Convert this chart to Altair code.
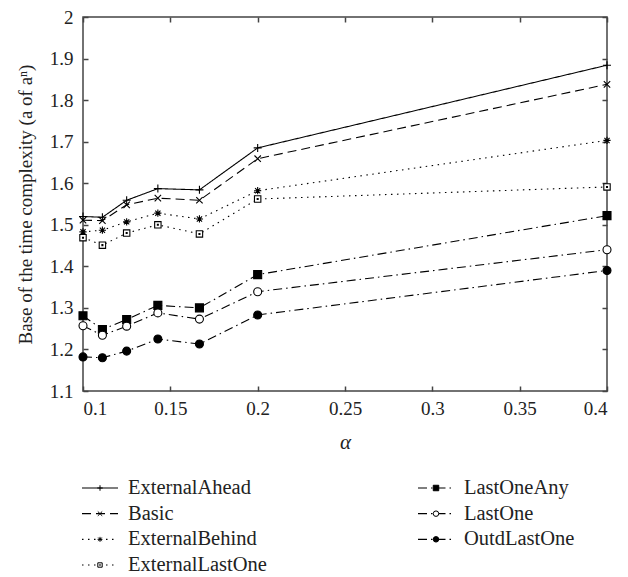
import altair as alt
import pandas as pd

alpha = [0.1, 1/9, 0.125, 1/7, 1/6, 0.2, 0.4]

series_names = ["ExternalAhead", "Basic", "ExternalBehind", "ExternalLastOne",
                "LastOneAny", "LastOne", "OutdLastOne"]

external_ahead = [1.520, 1.518, 1.559, 1.587, 1.584, 1.685, 1.884]
basic = [1.511, 1.510, 1.548, 1.564, 1.559, 1.659, 1.838]
external_behind = [1.483, 1.487, 1.507, 1.528, 1.514, 1.582, 1.703]
external_last_one = [1.469, 1.451, 1.480, 1.500, 1.478, 1.562, 1.591]
last_one_any = [1.281, 1.248, 1.272, 1.306, 1.300, 1.380, 1.522]
last_one = [1.257, 1.234, 1.256, 1.288, 1.273, 1.339, 1.440]
outd_last_one = [1.182, 1.180, 1.196, 1.225, 1.213, 1.283, 1.390]

x_ticks = [0.1, 0.15, 0.2, 0.25, 0.3, 0.35, 0.4]
y_ticks = [1.1, 1.2, 1.3, 1.4, 1.5, 1.6, 1.7, 1.8, 1.9, 2.0]

# legend layout: column and row of each entry
legend_col = [0, 0, 0, 0, 1, 1, 1]
legend_row = [0, 1, 2, 3, 0, 1, 2]

all_values = [external_ahead, basic, external_behind, external_last_one,
              last_one_any, last_one, outd_last_one]

rows = []
for name, vals in zip(series_names, all_values):
    for a, v in zip(alpha, vals):
        rows.append({"series": name, "alpha": a, "value": v})
df = pd.DataFrame(rows)

leg = pd.DataFrame({"series": series_names, "lx": legend_col, "ly": legend_row})

# styles
dash_range = [[1, 0], [9, 5], [1.5, 4.5], [1.5, 4.5],
              [9, 4, 1.5, 4], [9, 4, 1.5, 4], [9, 4, 1.5, 4]]
plus_path = "M-1,0L1,0M0,-1L0,1"
cross_path = "M-0.8,-0.8L0.8,0.8M-0.8,0.8L0.8,-0.8"
aster_path = "M-0.9,0L0.9,0M0,-0.9L0,0.9M-0.65,-0.65L0.65,0.65M-0.65,0.65L0.65,-0.65"
sq_dot_path = "M-0.8,-0.8L0.8,-0.8L0.8,0.8L-0.8,0.8Z M-0.12,-0.12L0.12,-0.12L0.12,0.12L-0.12,0.12Z"
shape_range = [plus_path, cross_path, aster_path, sq_dot_path, "square", "circle", "circle"]
fill_range = ["white", "white", "black", "white", "black", "white", "black"]

FONT = "Liberation Serif, Times New Roman, serif"
INK = "#222222"

dash_scale = alt.Scale(domain=series_names, range=dash_range)
shape_scale = alt.Scale(domain=series_names, range=shape_range)
fill_scale = alt.Scale(domain=series_names, range=fill_range)

xs = alt.Scale(domain=[0.1, 0.4], nice=False, zero=False)
ys = alt.Scale(domain=[1.1, 2.0], nice=False, zero=False)

lines = alt.Chart(df).mark_line(color="black", strokeWidth=1.1).encode(
    x=alt.X("alpha:Q", scale=xs,
            axis=alt.Axis(values=x_ticks, format="~g", title="α", orient="bottom",
                          offset=-5, tickSize=5, domain=False, grid=False,
                          labelPadding=8, titlePadding=13)),
    y=alt.Y("value:Q", scale=ys,
            axis=alt.Axis(values=y_ticks, format="~g",
                          title="Base of the time complexity (a of aⁿ)", orient="left",
                          offset=-5, tickSize=5, domain=False, grid=False,
                          labelPadding=10, titlePadding=14)),
    detail="series:N",
    strokeDash=alt.StrokeDash("series:N", scale=dash_scale, legend=None),
)

points = alt.Chart(df).mark_point(stroke="black", strokeWidth=1.1, opacity=1, size=64).encode(
    x=alt.X("alpha:Q", scale=xs, axis=None),
    y=alt.Y("value:Q", scale=ys, axis=None),
    shape=alt.Shape("series:N", scale=shape_scale, legend=None),
    fill=alt.Fill("series:N", scale=fill_scale, legend=None),
)

frame_ticks = alt.Chart(df).mark_point(opacity=0).encode(
    x=alt.X("alpha:Q", scale=xs,
            axis=alt.Axis(values=x_ticks, orient="top", labels=False, title=None,
                          offset=-5, tickSize=5, domain=False, grid=False)),
    y=alt.Y("value:Q", scale=ys,
            axis=alt.Axis(values=y_ticks, orient="right", labels=False, title=None,
                          offset=-5, tickSize=5, domain=False, grid=False)),
)

lxs = alt.Scale(domain=[0, 1], range=[17, 353])
lys = alt.Scale(domain=[0, 3], range=[471, 548])

leg_rule = alt.Chart(leg).mark_rule(color="black", strokeWidth=1.1, xOffset=-18, x2Offset=18).encode(
    x=alt.X("lx:Q", scale=lxs, axis=None),
    x2="lx:Q",
    y=alt.Y("ly:Q", scale=lys, axis=None),
    strokeDash=alt.StrokeDash("series:N", scale=dash_scale, legend=None),
)
leg_pts = alt.Chart(leg).mark_point(stroke="black", strokeWidth=1.0, opacity=1, size=30).encode(
    x=alt.X("lx:Q", scale=lxs, axis=None),
    y=alt.Y("ly:Q", scale=lys, axis=None),
    shape=alt.Shape("series:N", scale=shape_scale, legend=None),
    fill=alt.Fill("series:N", scale=fill_scale, legend=None),
)
leg_txt = alt.Chart(leg).mark_text(align="left", baseline="middle", dx=28,
                                   font=FONT, fontSize=20.5, color=INK).encode(
    x=alt.X("lx:Q", scale=lxs, axis=None),
    y=alt.Y("ly:Q", scale=lys, axis=None),
    text="series:N",
)

chart = alt.layer(lines, points, frame_ticks, leg_rule, leg_pts, leg_txt).resolve_scale(
    x="independent", y="independent"
).resolve_axis(
    x="independent", y="independent"
).properties(
    width=524, height=374,
    autosize=alt.AutoSizeParams(type="none"),
    padding={"left": 75, "top": 9, "right": 13, "bottom": 185},
).configure_view(
    stroke="#444444", strokeWidth=1.5
).configure_axis(
    labelFont=FONT, labelFontSize=19, labelColor=INK,
    titleFont=FONT, titleFontSize=19, titleColor=INK, titleFontWeight="normal",
    tickColor="#444444", tickWidth=1.5,
).configure_axisX(
    titleFontStyle="italic", titleFontSize=21
)

chart.save("out.html", embed_options={"renderer": "svg", "actions": False})
